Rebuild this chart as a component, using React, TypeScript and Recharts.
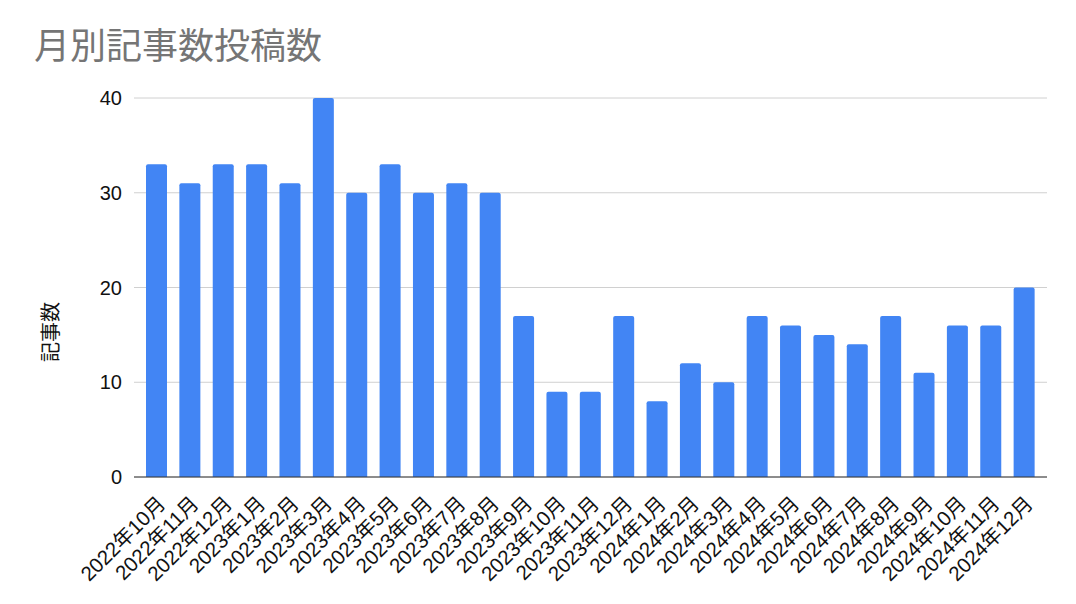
import React from "react";
import { BarChart, Bar, XAxis, YAxis, CartesianGrid } from "recharts";

const months = [
  "2022年10月", "2022年11月", "2022年12月",
  "2023年1月", "2023年2月", "2023年3月", "2023年4月", "2023年5月", "2023年6月",
  "2023年7月", "2023年8月", "2023年9月", "2023年10月", "2023年11月", "2023年12月",
  "2024年1月", "2024年2月", "2024年3月", "2024年4月", "2024年5月", "2024年6月",
  "2024年7月", "2024年8月", "2024年9月", "2024年10月", "2024年11月", "2024年12月",
];

const postCounts = [
  33, 31, 33,
  33, 31, 40, 30, 33, 30,
  31, 30, 17, 9, 9, 17,
  8, 12, 10, 17, 16, 15,
  14, 17, 11, 16, 16, 20,
];

const yTicks = [0, 10, 20, 30, 40];

const data = months.map((month, i) => ({ month, count: postCounts[i] }));

const FONT = '"Liberation Sans", Arial, "Noto Sans CJK JP", sans-serif';

function MonthTick(props: any) {
  const { x, y, payload } = props;
  return (
    <g transform={`translate(${x + 10},${y + 28})`}>
      <text
        x={0}
        y={0}
        textAnchor="end"
        transform="rotate(-45)"
        fill="#111"
        fontSize={20.5}
        fontFamily={FONT}
      >
        {payload.value}
      </text>
    </g>
  );
}

export default function App() {
  return (
    <div style={{ position: "absolute", left: 0, top: 0, width: 1076, height: 604, background: "#fff" }}>
      <div
        style={{
          position: "absolute",
          left: 34,
          top: 22,
          fontSize: 36,
          lineHeight: "42px",
          color: "#757575",
          fontFamily: '"Noto Sans CJK JP", sans-serif',
          whiteSpace: "nowrap",
        }}
      >
        月別記事数投稿数
      </div>
      <div
        style={{
          position: "absolute",
          left: 49,
          top: 332,
          transform: "translate(-50%, -50%) rotate(-90deg)",
          fontSize: 20,
          color: "#111",
          fontFamily: '"Noto Sans CJK JP", sans-serif',
          whiteSpace: "nowrap",
        }}
      >
        記事数
      </div>
      <BarChart
        width={1076}
        height={604}
        data={data}
        margin={{ top: 98, right: 29, bottom: 17, left: 74 }}
      >
        <CartesianGrid vertical={false} stroke="#d0d0d0" />
        <XAxis
          dataKey="month"
          interval={0}
          height={110}
          tickLine={false}
          tickSize={0}
          tickMargin={0}
          axisLine={{ stroke: "#333" }}
          padding={{ left: 6, right: 6 }}
          tick={<MonthTick />}
        />
        <YAxis
          width={60}
          domain={[0, 40]}
          ticks={yTicks}
          axisLine={false}
          tickLine={false}
          tickSize={0}
          tickMargin={12}
          tick={{ fill: "#111", fontSize: 20, fontFamily: FONT }}
        />
        <Bar
          dataKey="count"
          fill="#4285f4"
          barSize={21}
          radius={[2, 2, 0, 0]}
          isAnimationActive={false}
        />
      </BarChart>
    </div>
  );
}
